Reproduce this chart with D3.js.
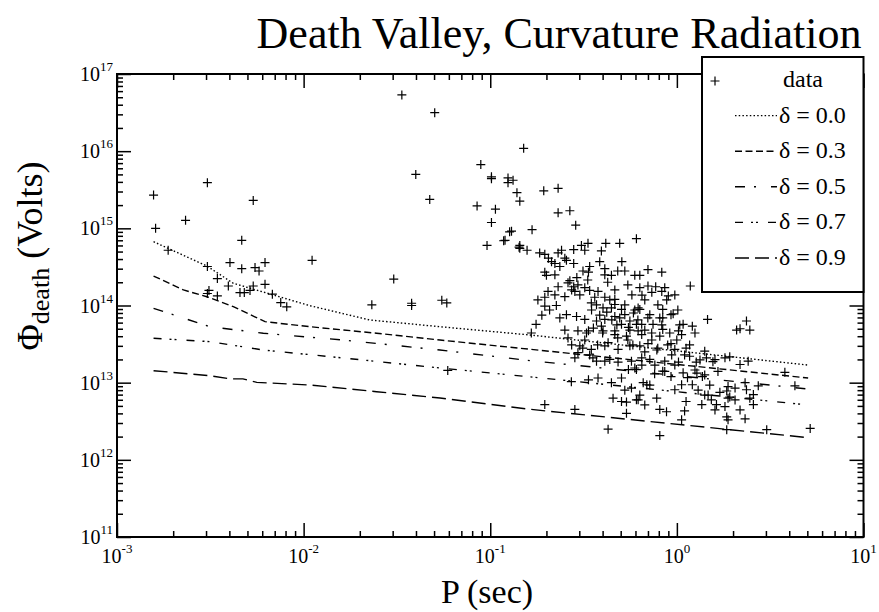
<!DOCTYPE html>
<html>
<head>
<meta charset="utf-8">
<script src="https://cdn.jsdelivr.net/npm/d3@7"></script>
<style>
	body { margin: 0; background: #fff; }
</style>
</head>
<body>
<script>
const serif = '"Liberation Serif", "Times New Roman", Times, "DejaVu Serif", "Noto Serif", serif';

// tick labels
const xTickValues = [1e-3, 1e-2, 1e-1, 1e0, 1e1];
const xTickExps = ['-3', '-2', '-1', '0', '1'];
const yTickValues = [1e11, 1e12, 1e13, 1e14, 1e15, 1e16, 1e17];
const yTickExps = ['11', '12', '13', '14', '15', '16', '17'];

const legendLabels = ['data', 'δ = 0.0', 'δ = 0.3', 'δ = 0.5', 'δ = 0.7', 'δ = 0.9'];

// death lines, [P (sec), Phi (Volts)]
const curve00 = [[0.00157, 6.71e14], [0.00303, 3.25e14], [0.0042, 1.94e14], [0.0108, 9.95e13], [0.0226, 6.49e13], [0.0538, 5.31e13], [0.163, 4.15e13], [5.05, 1.69e13]];
const curve03 = [[0.00157, 2.41e14], [0.00227, 1.59e14], [0.00303, 1.30e14], [0.0042, 9.66e13], [0.00621, 6.17e13], [0.0108, 5.31e13], [0.0246, 4.37e13], [0.0538, 3.57e13], [0.163, 2.71e13], [5.05, 1.15e13]];
const curve05 = [[0.00157, 9.2e13], [0.00315, 5.31e13], [0.00608, 4.37e13], [0.01626, 3.57e13], [0.0538, 2.65e13], [0.163, 1.93e13], [5.05, 8.28e12]];
const curve07 = [[0.00157, 3.76e13], [0.00315, 3.40e13], [0.00608, 2.65e13], [0.01626, 2.09e13], [0.0538, 1.55e13], [0.163, 1.19e13], [5.05, 5.14e12]];
const curve09 = [[0.00157, 1.43e13], [0.00315, 1.23e13], [0.00403, 1.12e13], [0.00473, 1.12e13], [0.00561, 1.01e13], [0.0108, 9.33e12], [0.0246, 7.64e12], [0.0538, 6.33e12], [0.163, 4.52e12], [5.05, 1.94e12]];

// pulsars, [P (sec), Phi (Volts)]
const pulsars = [
	[0.00157, 2.7e15], [0.00161, 1.0e15], [0.00188, 5.2e14], [0.00233, 1.27e15], [0.00305, 3.9e15],
	[0.00305, 3.2e14], [0.00311, 1.57e14], [0.00305, 1.43e14], [0.00345, 2.23e14], [0.00345, 1.33e14],
	[0.00403, 3.6e14], [0.00395, 1.79e14], [0.00466, 3.0e14], [0.00466, 7.0e14], [0.00456, 1.47e14],
	[0.00481, 1.47e14], [0.00537, 2.3e15], [0.00549, 3.1e14], [0.00577, 2.8e14], [0.00621, 3.6e14],
	[0.00537, 1.79e14], [0.00516, 1.57e14], [0.00621, 1.88e14], [0.0068, 1.4e14], [0.00754, 1.09e14],
	[0.00812, 9.6e13], [0.0111, 3.85e14], [0.0232, 1.02e14], [0.0304, 2.2e14], [0.0379, 1.07e14],
	[0.0379, 1.0e14], [0.0399, 5.0e15], [0.0474, 2.37e15], [0.0336, 5.35e16], [0.0504, 3.15e16],
	[0.055, 1.17e14], [0.0585, 1.08e14], [0.0592, 1.44e13],
	[0.151, 1.09e16], [0.089, 6.7e15], [0.1015, 4.65e15], [0.1015, 4.4e15], [0.1245, 4.5e15],
	[0.1245, 3.9e15], [0.1325, 4.2e15], [0.139, 2.9e15], [0.144, 2.25e15], [0.1935, 3.06e15],
	[0.231, 3.3e15], [0.231, 1.59e15], [0.267, 1.69e15], [0.287, 1.1e15], [0.085, 1.95e15],
	[0.1066, 1.77e15], [0.1015, 1.19e15], [0.127, 9.0e14], [0.130, 9.2e14], [0.1675, 9.6e14],
	[0.0961, 6.0e14], [0.118, 6.9e14], [0.1427, 5.7e14], [0.1575, 5.2e14], [0.184, 4.8e14],
	[0.196, 4.6e14], [0.231, 4.8e14], [0.241, 5.2e14], [0.280, 5.3e14], [0.308, 6.0e14],
	[0.334, 6.4e14], [0.321, 5.2e14], [0.394, 5.1e14], [0.416, 6.4e14], [0.494, 6.4e14],
	[0.607, 7.35e14], [0.12, 7.0e14], [0.144, 6.0e14], [0.144, 5.5e14],
	[0.70, 2.92e14], [0.83, 2.7e14], [0.633, 2.46e14], [1.18, 1.79e14], [0.70, 1.79e14],
	[0.77, 1.75e14], [0.861, 1.7e14], [0.83, 1.52e14], [0.65, 1.36e14], [0.90, 1.33e14],
	[0.633, 8.9e13], [0.84, 8.9e13], [0.955, 7.8e13], [1.46, 6.6e13], [1.08, 5.7e13],
	[1.21, 5.4e13], [2.36, 6.3e13], [2.18, 5.0e13], [2.09, 4.8e13], [2.46, 4.8e13],
	[1.92, 2.16e13], [2.18, 1.72e13], [2.41, 1.9e13], [3.79, 1.36e13], [4.29, 9.1e12],
	[2.73, 9.1e12], [2.36, 8.1e12], [2.46, 6.3e12], [2.57, 5.2e12], [1.92, 6.5e12],
	[1.81, 4.9e12], [1.85, 3.6e12], [2.32, 3.4e12], [3.03, 2.46e12], [5.18, 2.55e12],
	[1.85, 2.46e12], [1.06, 3.3e12], [0.81, 2.06e12],
	[1.41, 2.56e13], [1.44, 2.1e13], [1.60, 1.99e13], [1.81, 2.1e13], [1.28, 1.33e13],
	[1.37, 1.2e13], [1.21, 9.4e12], [1.08, 1.34e13], [0.93, 1.2e13], [1.06, 9.4e12],
	[0.975, 8.1e12], [0.84, 1.41e13], [0.76, 1.3e13], [0.66, 1.0e13], [0.69, 9.4e12],
	[0.62, 6.0e12], [0.78, 6.3e12], [0.81, 4.5e12], [0.88, 4.2e12], [1.10, 4.3e12],
	[1.12, 5.7e12], [1.36, 5.2e12], [1.53, 6.0e12], [1.63, 5.2e12], [1.88, 6.3e12],
	[1.88, 8.9e12], [2.05, 8.5e12], [1.85, 7.8e12], [1.70, 7.5e12], [1.47, 6.9e12],
	[2.32, 1.0e13], [2.57, 7.0e12], [1.88, 3.3e12],
	[0.166, 4.4e13], [0.261, 3.8e13], [0.295, 4.7e13], [0.328, 4.4e13], [0.402, 4.7e13],
	[0.465, 4.2e13], [0.537, 4.0e13], [0.302, 3.0e13], [0.313, 2.8e13], [0.348, 2.7e13],
	[0.411, 3.0e13], [0.428, 3.3e13], [0.484, 2.7e13], [0.56, 3.0e13], [0.295, 2.45e13],
	[0.355, 2.1e13], [0.371, 1.9e13], [0.411, 1.9e13], [0.437, 2.0e13], [0.484, 1.85e13],
	[0.571, 1.9e13], [0.55, 1.48e13], [0.595, 1.55e13], [0.505, 1.15e13], [0.378, 1.15e13],
	[0.336, 1.09e13], [0.272, 1.03e13], [0.446, 1.0e13], [0.571, 8.5e12], [0.455, 6.3e12],
	[0.505, 5.7e12], [0.537, 5.6e12], [0.196, 5.2e12], [0.284, 4.5e12], [0.537, 4.0e12],
	[0.428, 2.5e12], [0.607, 6.0e12],
	[0.256, 3.85e14], [0.28, 3.5e14], [0.222, 3.5e14], [0.196, 2.7e14], [0.2, 2.46e14],
	[0.341, 3.2e14], [0.336, 2.7e14], [0.411, 3.0e14], [0.446, 2.46e14], [0.526, 2.8e14],
	[0.595, 2.46e14], [0.267, 2.1e14], [0.28, 1.75e14], [0.295, 1.85e14], [0.284, 1.52e14],
	[0.231, 1.75e14], [0.204, 1.52e14], [0.196, 1.28e14], [0.196, 9.8e13], [0.226, 1.0e14],
	[0.256, 7.6e13], [0.29, 7.2e13], [0.321, 6.6e13], [0.176, 5.7e13], [0.341, 1.57e14],
	[0.378, 1.52e14], [0.363, 1.28e14], [0.411, 1.28e14], [0.465, 1.2e14], [0.348, 1.08e14],
	[0.402, 9.3e13], [0.446, 9.3e13], [0.465, 1.03e14], [0.505, 8.9e13], [0.526, 7.6e13],
	[0.585, 8.0e13], [0.56, 6.3e13], [0.465, 7.2e13], [0.411, 6.6e13], [0.371, 6.3e13],
	[0.394, 5.4e13], [0.505, 5.7e13], [0.336, 4.7e13], [0.465, 4.7e13], [0.55, 5.2e13],
	[0.607, 5.7e13],
	[0.648, 4.2e13], [0.733, 4.4e13], [0.81, 4.0e13], [0.916, 4.4e13], [1.06, 4.2e13],
	[1.25, 4.4e13], [0.633, 3.0e13], [0.70, 3.2e13], [0.79, 2.8e13], [0.93, 3.2e13],
	[0.975, 2.7e13], [1.12, 2.8e13], [1.17, 2.2e13], [0.648, 2.1e13], [0.716, 2.0e13],
	[0.861, 1.9e13], [1.02, 1.85e13], [1.27, 1.85e13], [0.607, 1.48e13],
	[0.62, 9.3e13], [0.716, 7.6e13], [0.81, 6.9e13], [0.93, 7.6e13], [0.648, 5.7e13],
	[0.745, 5.7e13], [0.84, 4.9e13], [0.62, 4.7e13], [1.02, 4.7e13],
	[0.261, 1.97e14], [0.273, 1.59e14], [0.291, 2.3e14], [0.302, 1.37e14], [0.321, 1.7e14],
	[0.251, 1.3e14], [0.333, 2.14e14], [0.314, 2.8e14],
	[0.349, 8.75e13], [0.371, 1.02e14], [0.386, 7.5e13], [0.421, 8.2e13], [0.448, 6.5e13],
	[0.357, 5.1e13], [0.400, 4.4e13], [0.437, 1.18e14], [0.477, 5.6e13],
	[0.494, 6.9e13], [0.526, 1.02e14], [0.560, 4.8e13], [0.595, 8.75e13], [0.618, 6.5e13],
	[0.546, 3.57e13], [0.482, 3.8e13], [0.581, 3.08e13],
	[0.673, 4.8e13], [0.734, 3.57e13], [0.781, 2.65e13], [0.830, 5.6e13], [0.893, 3.08e13],
	[0.938, 2.29e13], [0.999, 3.57e13], [1.036, 5.6e13], [0.673, 2.5e13], [0.762, 1.69e13],
	[0.861, 1.4e13], [0.975, 1.69e13], [0.649, 1.69e13],
	[1.10, 2.29e13], [1.17, 3.08e13], [1.25, 1.46e13], [1.33, 1.97e13], [1.41, 1.26e13],
	[1.50, 9.3e12], [1.66, 1.4e13], [1.56, 1.87e13], [1.14, 1.16e13], [1.30, 8.0e12],
	[0.213, 3.7e14], [0.236, 3.2e14], [0.251, 4.1e14], [0.222, 2.5e14], [0.205, 4.1e14],
	[0.386, 3.7e14], [0.426, 2.0e14], [0.465, 1.59e14], [0.507, 3.7e14], [0.546, 1.85e14],
	[0.574, 1.37e14], [0.633, 1.7e14], [0.482, 2.8e14], [0.411, 2.5e14],
	[0.673, 1.18e14], [0.734, 1.48e14], [0.791, 1.02e14], [0.882, 1.18e14], [0.975, 1.37e14],
	[1.012, 8.75e13], [0.699, 6.9e13], [0.840, 6.9e13],
	[0.180, 1.18e14], [0.208, 8.75e13], [0.222, 1.37e14], [0.236, 6.9e13], [0.189, 7.5e13],
	[0.251, 4.8e13], [0.273, 3.08e13], [0.321, 3.57e13], [0.341, 2.29e13], [0.376, 3.08e13],
	[0.284, 2.1e13],
	[1.41, 6.9e12], [1.60, 4.43e12], [2.05, 5.97e12], [2.18, 4.43e12],
	[0.526, 8.0e12], [0.633, 6.9e12], [0.716, 9.3e12], [0.673, 5.14e12]
];

const svgSize = {width: 879, height: 612};
const plot = {left: 117, right: 863.5, top: 74, bottom: 537};

const svg = d3.select('body').append('svg')
	.attr('width', svgSize.width)
	.attr('height', svgSize.height)
	.style('font-family', serif);

const x = d3.scaleLog().domain([1e-3, 1e1]).range([plot.left, plot.right]);
const y = d3.scaleLog().domain([1e11, 1e17]).range([plot.bottom, plot.top]);

function minorTicks(lo, hi) {
	const t = [];
	for (let e = lo; e < hi; e++)
		for (let k = 2; k < 10; k++) t.push(k * Math.pow(10, e));
	return t;
}
const xMinor = minorTicks(-3, 1);
const yMinor = minorTicks(11, 17);

// inward ticks on all four sides
function addAxis(axisFn, scale, transform, values, size) {
	const g = svg.append('g')
		.attr('transform', transform)
		.call(axisFn(scale).tickValues(values).tickSize(-size).tickSizeOuter(0).tickFormat(''));
	g.select('.domain').remove();
	g.selectAll('line').attr('stroke', '#000').attr('stroke-width', 1.5);
}
addAxis(d3.axisBottom, x, `translate(0,${plot.bottom})`, xTickValues, 14);
addAxis(d3.axisBottom, x, `translate(0,${plot.bottom})`, xMinor, 6);
addAxis(d3.axisTop, x, `translate(0,${plot.top})`, xTickValues, 14);
addAxis(d3.axisTop, x, `translate(0,${plot.top})`, xMinor, 6);
addAxis(d3.axisLeft, y, `translate(${plot.left},0)`, yTickValues, 14);
addAxis(d3.axisLeft, y, `translate(${plot.left},0)`, yMinor, 6);
addAxis(d3.axisRight, y, `translate(${plot.right},0)`, yTickValues, 14);
addAxis(d3.axisRight, y, `translate(${plot.right},0)`, yMinor, 6);

// death lines
const line = d3.line().x(d => x(d[0])).y(d => y(d[1]));
const curves = [curve00, curve03, curve05, curve07, curve09];
const dashes = ['1.5,2.2', '7,3.5', '10,9,2,15', '8,8,2,3,2,10', '14,6'];

svg.append('g').selectAll('path')
	.data(curves)
	.enter()
	.append('path')
	.attr('d', line)
	.attr('fill', 'none')
	.attr('stroke', '#000')
	.attr('stroke-width', 1.4)
	.attr('stroke-dasharray', (d, i) => dashes[i]);

// data crosses
const cross = 'M-4.5,0H4.5M0,-4.5V4.5';
svg.append('g').selectAll('path')
	.data(pulsars)
	.enter()
	.append('path')
	.attr('transform', d => `translate(${x(d[0])},${y(d[1])})`)
	.attr('d', cross)
	.attr('stroke', '#000')
	.attr('stroke-width', 1.2);

// frame
svg.append('rect')
	.attr('x', plot.left).attr('y', plot.top)
	.attr('width', plot.right - plot.left).attr('height', plot.bottom - plot.top)
	.attr('fill', 'none').attr('stroke', '#000').attr('stroke-width', 2);

// tick labels
const xLabels = svg.append('g');
xTickValues.forEach((v, i) => {
	const t = xLabels.append('text')
		.attr('x', x(v)).attr('y', 563)
		.attr('text-anchor', 'middle')
		.attr('font-family', serif)
		.style('font-size', '20px');
	t.append('tspan').text('10');
	t.append('tspan').attr('dy', -10).style('font-size', '13px').text(xTickExps[i]);
});
const yLabels = svg.append('g');
yTickValues.forEach((v, i) => {
	const t = yLabels.append('text')
		.attr('x', 113).attr('y', y(v) + 7)
		.attr('text-anchor', 'end')
		.attr('font-family', serif)
		.style('font-size', '20px');
	t.append('tspan').text('10');
	t.append('tspan').attr('dy', -10).style('font-size', '13px').text(yTickExps[i]);
});

// titles
svg.append('text')
	.attr('x', 559).attr('y', 48)
	.attr('text-anchor', 'middle')
	.attr('font-family', serif)
	.style('font-size', '44px')
	.text('Death Valley, Curvature Radiation');

svg.append('text')
	.attr('x', 487).attr('y', 603)
	.attr('text-anchor', 'middle')
	.attr('font-family', serif)
	.style('font-size', '34px')
	.text('P (sec)');

const yTitle = svg.append('text')
	.attr('transform', 'translate(42,256) rotate(-90)')
	.attr('text-anchor', 'middle')
	.attr('font-family', serif)
	.style('font-size', '36px');
yTitle.append('tspan').text('Φ');
yTitle.append('tspan').attr('dy', 7).style('font-size', '26px').text('death');
yTitle.append('tspan').attr('dy', -7).text(' (Volts)');

// legend
const legend = svg.append('g');
legend.append('rect')
	.attr('x', 702).attr('y', 57)
	.attr('width', 161.5).attr('height', 235)
	.attr('fill', '#fff').attr('stroke', '#000').attr('stroke-width', 2);
legendLabels.forEach((label, i) => {
	const base = 87 + i * 35.6;
	legend.append('text')
		.attr('x', i === 0 ? 783 : 779).attr('y', base)
		.attr('font-family', serif)
		.style('font-size', '24px')
		.text(label);
	if (i === 0) {
		legend.append('path')
			.attr('transform', `translate(715,${base - 6})`)
			.attr('d', cross)
			.attr('stroke', '#000').attr('stroke-width', 1.2);
	} else {
		legend.append('line')
			.attr('x1', 735).attr('x2', 777)
			.attr('y1', base - 7).attr('y2', base - 7)
			.attr('stroke', '#000').attr('stroke-width', 1.4)
			.attr('stroke-dasharray', dashes[i - 1]);
	}
});
</script>
</body>
</html>
